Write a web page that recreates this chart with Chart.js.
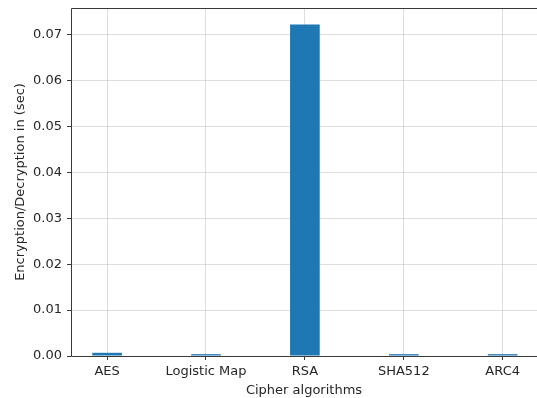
<!DOCTYPE html>
<html>
<head>
<meta charset="utf-8">
<script src="https://cdn.jsdelivr.net/npm/chart.js@4.4.1/dist/chart.umd.min.js"></script>
<style>
  html, body { margin: 0; padding: 0; background: #fff; overflow: hidden; }
  canvas { display: block; }
</style>
</head>
<body>
<canvas id="c" width="537" height="398"></canvas>
<script>
// Timing of each cipher (seconds)
const algorithms = ['AES', 'Logistic Map', 'RSA', 'SHA512', 'ARC4'];
const timesSec = [0.0007, 0.0004, 0.0722, 0.0004, 0.0004];
const yTicks = [0, 0.01, 0.02, 0.03, 0.04, 0.05, 0.06, 0.07];

const FONT = "'DejaVu Sans', sans-serif";
const TEXT = '#262626';
const GRID = 'rgba(176,176,176,0.42)';
const SPINE = '#3a3a3a';

// Spines: left, top and bottom (the right one falls just past the canvas edge)
const frame = {
  id: 'frame',
  afterDraw(chart) {
    const { ctx, chartArea: a } = chart;
    const l = Math.round(a.left) + 0.5, t = Math.round(a.top) + 0.5;
    const b = Math.round(a.bottom) + 0.5, r = chart.width;
    ctx.save();
    ctx.strokeStyle = SPINE;
    ctx.lineWidth = 1;
    ctx.beginPath();
    ctx.moveTo(r, t); ctx.lineTo(l, t); ctx.lineTo(l, b); ctx.lineTo(r, b);
    ctx.stroke();
    ctx.restore();
  }
};

new Chart(document.getElementById('c'), {
  type: 'bar',
  data: {
    datasets: [{
      data: algorithms.map((name, i) => ({ x: i, y: timesSec[i] })),
      backgroundColor: '#1f77b4',
      borderWidth: 0,
      barPercentage: 0.3,
      categoryPercentage: 1.0
    }]
  },
  plugins: [frame],
  options: {
    responsive: false,
    animation: false,
    events: [],
    layout: { padding: { left: 9, top: 8, right: 0, bottom: 0 } },
    plugins: { legend: { display: false }, tooltip: { enabled: false } },
    scales: {
      x: {
        type: 'linear',
        min: -0.365,
        max: 4.347,
        offset: false,
        z: 1,
        afterBuildTicks(scale) {
          scale.ticks = algorithms.map((_, i) => ({ value: i }));
        },
        afterFit(scale) {
          scale.height = 42;
          scale.paddingLeft = 0;
          scale.paddingRight = 0;
        },
        grid: { offset: false, color: GRID, lineWidth: 1, tickColor: SPINE, tickLength: 4, drawTicks: true },
        border: { display: false },
        ticks: {
          color: TEXT,
          font: { family: FONT, size: 13 },
          padding: 4,
          maxRotation: 0,
          autoSkip: false,
          callback: (v) => algorithms[v] ?? ''
        },
        title: {
          display: true,
          text: 'Cipher algorithms',
          color: TEXT,
          font: { family: FONT, size: 13 },
          padding: { top: 0, bottom: 0 }
        }
      },
      y: {
        min: 0,
        max: 0.0758,
        z: 1,
        afterBuildTicks(scale) {
          scale.ticks = yTicks.map(v => ({ value: v }));
        },
        afterFit(scale) {
          scale.width = 62;
          scale.paddingTop = 0;
          scale.paddingBottom = 0;
        },
        grid: { color: GRID, lineWidth: 1, tickColor: SPINE, tickLength: 4, drawTicks: true },
        border: { display: false },
        ticks: {
          color: TEXT,
          font: { family: FONT, size: 13 },
          padding: 5,
          includeBounds: false,
          callback: (v) => Number(v).toFixed(2)
        },
        title: {
          display: true,
          text: 'Encryption/Decryption in (sec)',
          color: TEXT,
          font: { family: FONT, size: 13 },
          padding: { top: 4, bottom: 0 }
        }
      }
    }
  }
});
</script>
</body>
</html>
